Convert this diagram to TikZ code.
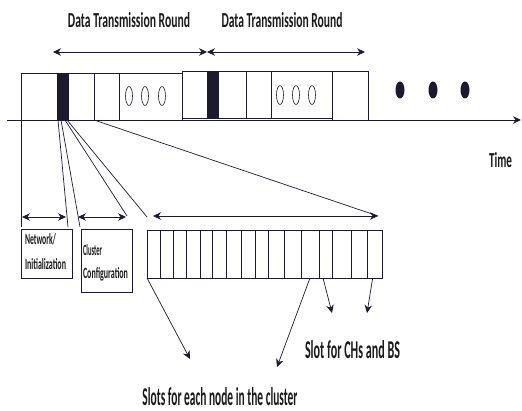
\documentclass[tikz,border=0pt]{standalone}
\usepackage{fontspec}
\setmainfont{Carlito}
\usepackage{graphicx}
\usetikzlibrary{arrows.meta,shapes.geometric,calc}
\definecolor{ink}{HTML}{1C1A2E}
\definecolor{txt}{HTML}{1A1A1A}
\newcommand{\fitt}[3]{\resizebox{#1pt}{#2pt}{\bfseries #3}}
\tikzset{
  cell/.style={draw=ink, line width=0.7pt, inner sep=0pt, outer sep=0pt, anchor=north west},
  bar/.style={cell, fill=ink},
  oval/.style={ellipse, draw=ink, line width=0.6pt, inner sep=0pt, minimum width=7pt, minimum height=19pt},
  bigdot/.style={ellipse, fill=ink, inner sep=0pt, minimum width=9pt, minimum height=17pt},
  conn/.style={draw=ink, line width=0.7pt},
  tip/.style={conn, -{Stealth[length=8pt,width=7.5pt]}},
  dtip/.style={conn, {Stealth[length=8pt,width=7.5pt]}-{Stealth[length=8pt,width=7.5pt]}},
  lbl/.style={inner sep=0pt, outer sep=0pt, text=txt}
}
\begin{document}
\begin{tikzpicture}[x=1pt,y=-1pt]
\useasboundingbox (0,0) rectangle (522,411);
% time axis
\coordinate (ax0) at (7,120);
\coordinate (ax1) at (521,120);
\draw[tip] (ax0) -- (ax1);
% block 1
\node[cell, minimum width=36pt, minimum height=47pt] (a1) at (21,73) {};
\node[bar, minimum width=11pt, minimum height=47pt] (abar) at (57,73) {};
\node[cell, minimum width=26pt, minimum height=47pt] (a3) at (68,73) {};
\node[cell, minimum width=25pt, minimum height=47pt] (a4) at (94,73) {};
\node[cell, minimum width=63pt, minimum height=47pt] (a5) at (119,73) {};
% block 2
\node[cell, minimum width=25pt, minimum height=47pt] (b1) at (182,71) {};
\node[bar, minimum width=11pt, minimum height=47pt] (bbar) at (207,71) {};
\node[cell, minimum width=28pt, minimum height=47pt] (b3) at (218,71) {};
\node[cell, minimum width=25pt, minimum height=47pt] (b4) at (246,71) {};
\node[cell, minimum width=61pt, minimum height=47pt] (b5) at (271,71) {};
\node[cell, minimum width=36pt, minimum height=49pt] (b6) at (332,71) {};
% ovals
\node[oval] (o1) at (129,96) {};
\node[oval] (o2) at (145,96) {};
\node[oval] (o3) at (162,96) {};
\node[oval] (o4) at (280,95) {};
\node[oval] (o5) at (296,95) {};
\node[oval] (o6) at (312,95) {};
% big dots
\node[bigdot] (d1) at (400,90) {};
\node[bigdot] (d2) at (433,90) {};
\node[bigdot] (d3) at (465,90) {};
% top arrows
\coordinate (r0) at (53,52);
\coordinate (r1) at (207,52);
\coordinate (r2) at (365,52);
\draw[dtip] (r0) -- (r1);
\draw[dtip] (r1) -- (r2);
\node[lbl, anchor=base] (t1) at (129,28) {\fitt{122}{15}{Data Transmission Round}};
\node[lbl, anchor=base] (t2) at (282,28) {\fitt{121}{15}{Data Transmission Round}};
\node[lbl, anchor=base] (time) at (500.5,168) {\fitt{23}{15}{Time}};
% slots row
\foreach \i/\l/\r in {1/147/160.7,2/160.7/173.3,3/173.3/186.7,4/186.7/200,5/200/212.3,6/212.3/226,7/226/241.7,8/241.7/255,9/255/268.3,10/268.3/284.3,11/284.3/301,12/301/319,13/319/332.7,14/332.7/351.7,15/351.7/367.7,16/367.7/382}{
  \pgfmathsetmacro{\w}{\r-\l}
  \node[cell, minimum width=\w pt, minimum height=48pt] (s\i) at (\l,230) {};
}
% lower boxes
\node[cell, minimum width=51pt, minimum height=49pt] (net) at (21,229) {};
\node[cell, minimum width=51pt, minimum height=63pt] (clu) at (81,229) {};
\node[lbl, anchor=base west] (n1) at (25,245) {\fitt{31}{11}{Network/}};
\node[lbl, anchor=base west] (n2) at (25,270) {\fitt{41}{11}{Initialization}};
\node[lbl, anchor=base west] (c1) at (83,256) {\fitt{19}{11}{Cluster}};
\node[lbl, anchor=base west] (c2) at (83,279) {\fitt{45}{11}{Configuration}};
% left vertical line
\coordinate (vl) at (21,227);
\draw[conn] (a1.south west) -- (vl);
% fan lines from the bar
\coordinate (f1) at (68,227);
\coordinate (f2) at (80,227);
\coordinate (f3) at (127,216);
\coordinate (f4) at (147,217);
\draw[conn] ($(abar.south west)+(1,0)$) -- (f1);
\draw[conn] ($(abar.south west)+(4,0)$) -- (f2);
\draw[conn] ($(abar.south west)+(8,0)$) -- (f3);
\draw[conn] ($(abar.south west)+(10,0)$) -- (f4);
% phase arrows
\coordinate (na) at (22,217);
\coordinate (nb) at (66,217);
\coordinate (ca) at (78,217);
\coordinate (cb) at (126,217);
\coordinate (la) at (153,216);
\coordinate (lb) at (378,216);
\draw[dtip] (na) -- (nb);
\draw[dtip] (ca) -- (cb);
\draw[dtip] (la) -- (lb);
\draw[conn] (a4.south west) -- (lb);
% lower arrows
\coordinate (e1) at (190,359);
\coordinate (e2) at (277,367);
\coordinate (e3) at (332,313);
\coordinate (e4) at (367,313);
\draw[tip] (s1.south west) -- (e1);
\draw[tip] (s12.south) -- (e2);
\draw[tip] ($(s13.south west)+(4,0)$) -- (e3);
\draw[tip] ($(s16.south west)+(5,0)$) -- (e4);
\node[lbl, anchor=base] (l1) at (352.5,359) {\fitt{95}{18}{Slot for CHs and BS}};
\node[lbl, anchor=base] (l2) at (220,405) {\fitt{155}{18}{Slots for each node in the cluster}};
\end{tikzpicture}
\end{document}
